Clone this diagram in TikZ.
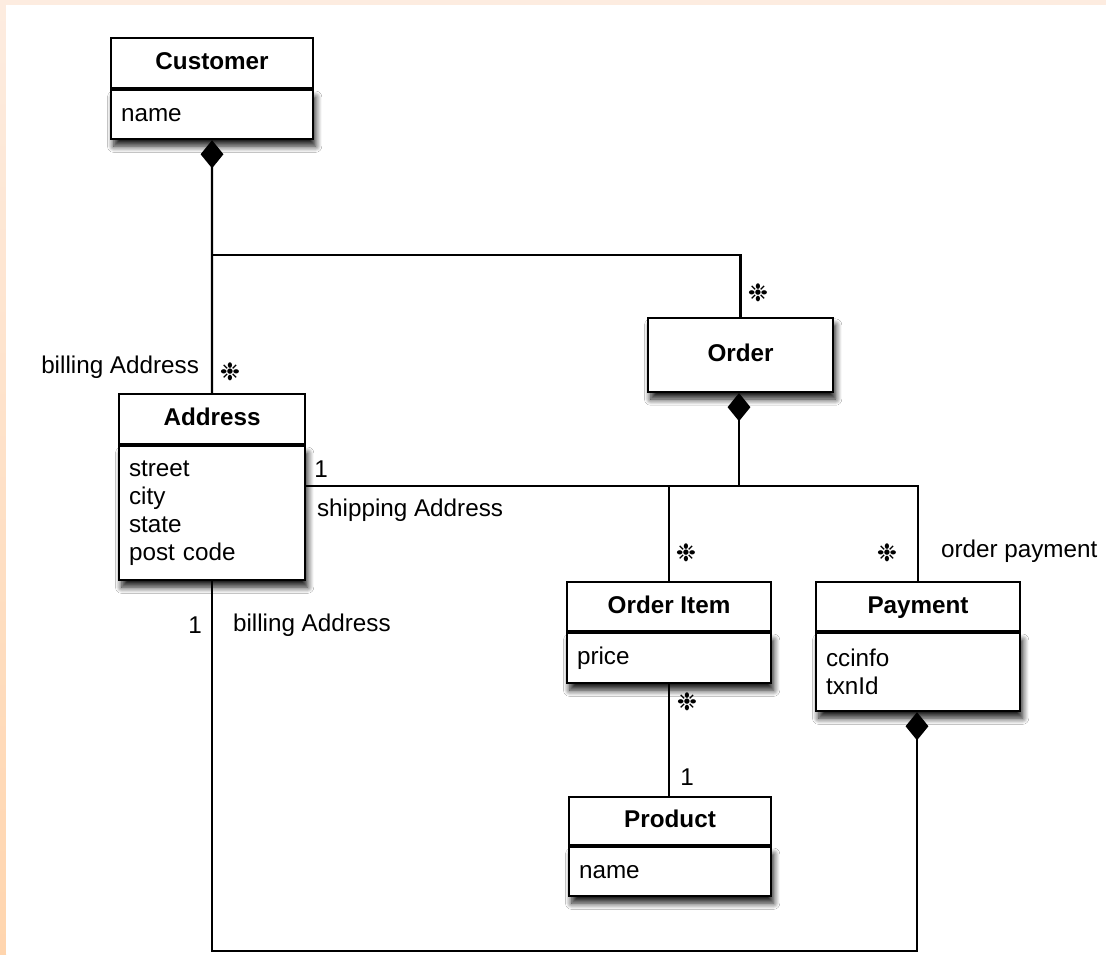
\documentclass[tikz,border=0pt]{standalone}
\usepackage{fontspec}
\setmainfont{Liberation Sans}
\newfontfamily\symfont{DejaVu Sans}
\usetikzlibrary{arrows.meta,shadows.blur}

\definecolor{peachtop}{RGB}{253,236,224}
\definecolor{peachlow}{RGB}{255,213,174}

\newcommand{\many}{{\symfont ❉}}

\tikzset{
  boxshadow/.style={blur shadow={shadow xshift=1.5pt, shadow yshift=-4pt,
      shadow blur radius=3.5pt, shadow blur steps=8, shadow opacity=90}},
  classtitle/.style={draw, fill=white, font=\bfseries, inner sep=0pt,
      text height=0.75em, text depth=0.2em, anchor=north west},
  classattr/.style={draw, fill=white, inner xsep=0.2cm, inner ysep=0pt,
      align=left, anchor=north west, boxshadow},
  rolelabel/.style={inner sep=0pt},
  comp/.style={-{Diamond[length=16pt,width=13pt]}},
}

\begin{document}
\fontsize{13.8}{15.9}\selectfont
\begin{tikzpicture}[x=0.02cm, y=-0.02cm, line width=1.2pt]
  \useasboundingbox (0,0) rectangle (1106,954);
  \fill[peachtop] (0,0) rectangle (1106,954);
  \shade[top color=peachtop, bottom color=peachlow] (0,0) rectangle (6,954);
  \fill[white] (6,5) rectangle (1106,954);

  % classes
  \node[classtitle, minimum width=4.04cm, minimum height=1cm] (cust) at (110,37) {Customer};
  \node[classattr, text width=3.64cm, minimum height=0.98cm] (custattr) at (cust.south west) {name};

  \node[classtitle, boxshadow, minimum width=3.7cm, minimum height=1.48cm] (order) at (647,317) {Order};

  \node[classtitle, minimum width=3.72cm, minimum height=1cm] (addr) at (118,393) {Address};
  \node[classattr, text width=3.32cm, minimum height=2.68cm] (addrattr) at (addr.south west)
    {street\\city\\state\\post code};

  \node[classtitle, minimum width=4.08cm, minimum height=0.98cm] (item) at (566,581) {Order Item};
  \node[classattr, text width=3.68cm, minimum height=1cm] (itemattr) at (item.south west) {price};

  \node[classtitle, minimum width=4.08cm, minimum height=0.98cm] (pay) at (815,581) {Payment};
  \node[classattr, text width=3.68cm, minimum height=1.56cm] (payattr) at (pay.south west)
    {ccinfo\\txnId};

  \node[classtitle, minimum width=4.04cm, minimum height=0.96cm] (prod) at (568,796) {Product};
  \node[classattr, text width=3.64cm, minimum height=0.98cm] (prodattr) at (prod.south west) {name};

  % connectors
  \coordinate (split) at (211,255);
  \coordinate (bus) at (739,486);
  \coordinate (low) at (917,951);
  \draw[comp] (addr.north) -- (custattr.south);
  \draw (split) -| (order.north);
  \draw[comp] (bus) -- (bus |- order.south);
  \draw (addrattr.east |- bus) -| (pay.north);
  \draw (bus -| item.north) -- (item.north);
  \draw (itemattr.south) -- (itemattr.south |- prod.north);
  \draw[comp] (addrattr.south) |- (low) -- (low |- payattr.south);

  % roles and multiplicities
  \node[rolelabel, anchor=east] (billtop) at (200,367) {billing Address};
  \node (m1) at (230,372) {\many};
  \node (m2) at (758,293) {\many};
  \node (m3) at (321,469) {1};
  \node[rolelabel, anchor=west] (ship) at (316,510) {shipping Address};
  \node (m4) at (686,553) {\many};
  \node (m5) at (887,553) {\many};
  \node[rolelabel, anchor=west] (opay) at (940,551) {order payment};
  \node (m6) at (195,625) {1};
  \node[rolelabel, anchor=west] (billlow) at (232,625) {billing Address};
  \node (m7) at (687,702) {\many};
  \node (m8) at (687,777) {1};
\end{tikzpicture}
\end{document}
